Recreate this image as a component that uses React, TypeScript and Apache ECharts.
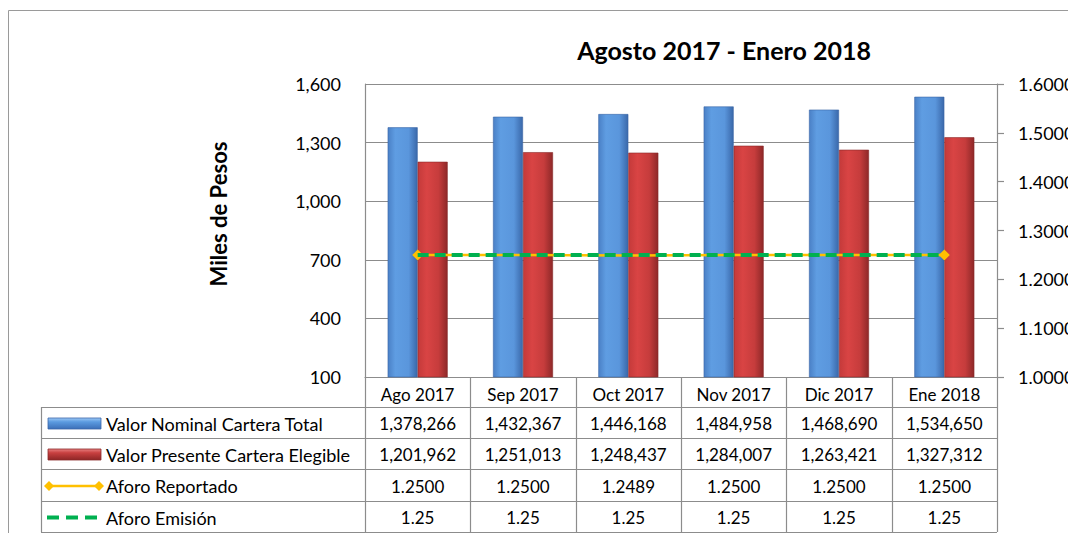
import React, { useEffect, useRef } from "react";
import * as echarts from "echarts";

const categories = ["Ago 2017", "Sep 2017", "Oct 2017", "Nov 2017", "Dic 2017", "Ene 2018"];
const valorNominal = [1378266, 1432367, 1446168, 1484958, 1468690, 1534650];
const valorPresente = [1201962, 1251013, 1248437, 1284007, 1263421, 1327312];
const aforoReportado = [1.25, 1.25, 1.2489, 1.25, 1.25, 1.25];
const aforoEmision = [1.25, 1.25, 1.25, 1.25, 1.25, 1.25];
const leftTicks = { min: 100, max: 1600, interval: 300 };
const rightTicks = { min: 1.0, max: 1.6, interval: 0.1 };
const rowNames = ["Valor Nominal Cartera Total", "Valor Presente Cartera Elegible", "Aforo Reportado", "Aforo Emisión"];

const FONT = "Lato";

function fmtInt(v: number) {
  return v.toLocaleString("en-US");
}

export default function App() {
  const ref = useRef<HTMLDivElement>(null);
  useEffect(() => {
    document.body.style.margin = "0";
    const chart = echarts.init(ref.current!, null, { renderer: "svg" });

    const gl = 365, gr = 997, gt = 84, gb = 377;
    const cw = (gr - gl) / categories.length;
    const rows = [377, 407, 438, 469, 501, 532];
    const lineColor = "#8c8c8c";

    const g: any[] = [];
    // outer border
    g.push({ type: "rect", shape: { x: 8.5, y: 10.5, width: 1200, height: 700 }, style: { fill: "none", stroke: "#9a9a9a", lineWidth: 1 }, silent: true });
    // title
    g.push({ type: "text", x: 724, y: 50, style: { text: "Agosto 2017 - Enero 2018", font: `bold 25px ${FONT}`, fill: "#000", align: "center", verticalAlign: "middle" } });
    // y axis name
    g.push({ type: "text", x: 218, y: 214, rotation: Math.PI / 2, style: { text: "Miles de Pesos", font: `bold 22px ${FONT}`, fill: "#000", align: "center", verticalAlign: "middle" } });

    // table lines
    for (let i = 1; i < rows.length; i++) {
      g.push({ type: "line", shape: { x1: 41, y1: rows[i] + 0.5, x2: gr, y2: rows[i] + 0.5 }, style: { stroke: lineColor, lineWidth: 1.2 } });
    }
    g.push({ type: "line", shape: { x1: 41.5, y1: rows[1], x2: 41.5, y2: rows[5] }, style: { stroke: lineColor, lineWidth: 1.2 } });
    for (let k = 0; k <= categories.length; k++) {
      const x = Math.round(gl + k * cw) + 0.5;
      g.push({ type: "line", shape: { x1: x, y1: rows[0], x2: x, y2: rows[5] }, style: { stroke: lineColor, lineWidth: 1.2 } });
    }
    // table values
    const rowVals: string[][] = [
      valorNominal.map(fmtInt),
      valorPresente.map(fmtInt),
      aforoReportado.map((v) => v.toFixed(4)),
      aforoEmision.map((v) => v.toFixed(2)),
    ];
    rowVals.forEach((vals, r) => {
      const cy = (rows[r + 1] + rows[r + 2]) / 2 + 1;
      vals.forEach((t, c) => {
        g.push({ type: "text", x: gl + (c + 0.5) * cw, y: cy, style: { text: t, font: `17px ${FONT}`, fill: "#000", align: "center", verticalAlign: "middle" } });
      });
      g.push({ type: "text", x: 106, y: cy, style: { text: rowNames[r], font: `18px ${FONT}`, fill: "#000", align: "left", verticalAlign: "middle" } });
    });
    // legend icons
    const cy1 = (rows[1] + rows[2]) / 2 + 1;
    const cy2 = (rows[2] + rows[3]) / 2 + 1;
    const cy3 = (rows[3] + rows[4]) / 2 + 1;
    const cy4 = (rows[4] + rows[5]) / 2 + 1;
    g.push({ type: "rect", shape: { x: 48, y: cy1 - 5.5, width: 53, height: 11 }, style: { fill: new echarts.graphic.LinearGradient(0, 0, 0, 1, [{ offset: 0, color: "#9cc8f5" }, { offset: 0.35, color: "#5b9be0" }, { offset: 1, color: "#3b6fb8" }]), stroke: "#3a66a8", lineWidth: 0.8 } });
    g.push({ type: "rect", shape: { x: 48, y: cy2 - 5.5, width: 53, height: 11 }, style: { fill: new echarts.graphic.LinearGradient(0, 0, 0, 1, [{ offset: 0, color: "#e88080" }, { offset: 0.35, color: "#c84040" }, { offset: 1, color: "#8e2626" }]), stroke: "#8a2a2a", lineWidth: 0.8 } });
    g.push({ type: "line", shape: { x1: 49, y1: cy3, x2: 99, y2: cy3 }, style: { stroke: "#FFC000", lineWidth: 2.5 } });
    [49, 99].forEach((x) => {
      g.push({ type: "polygon", shape: { points: [[x - 5, cy3], [x, cy3 - 5], [x + 5, cy3], [x, cy3 + 5]] }, style: { fill: "#FFC000" } });
    });
    g.push({ type: "line", shape: { x1: 47, y1: cy4, x2: 97, y2: cy4 }, style: { stroke: "#00B050", lineWidth: 4, lineDash: [12, 7] } });

    const barGradBlue = new echarts.graphic.LinearGradient(0, 0, 1, 0, [
      { offset: 0, color: "#4a80c6" },
      { offset: 0.25, color: "#5f9de2" },
      { offset: 0.7, color: "#5a96dc" },
      { offset: 1, color: "#3a68aa" },
    ]);
    const barGradRed = new echarts.graphic.LinearGradient(0, 0, 1, 0, [
      { offset: 0, color: "#c43a3a" },
      { offset: 0.3, color: "#d94444" },
      { offset: 0.7, color: "#c63c3c" },
      { offset: 1, color: "#8e2828" },
    ]);

    chart.setOption({
      animation: false,
      textStyle: { fontFamily: FONT },
      grid: { left: gl, right: 1068 - gr, top: gt, bottom: 533 - gb, containLabel: false, outerBoundsMode: "none" },
      xAxis: {
        type: "category",
        data: categories,
        axisLine: { show: true, lineStyle: { color: lineColor, width: 1.2 } },
        axisTick: { show: false },
        axisLabel: { color: "#000", fontSize: 17, margin: 9, fontFamily: FONT },
        splitLine: { show: false },
      },
      yAxis: [
        {
          type: "value",
          min: leftTicks.min,
          max: leftTicks.max,
          interval: leftTicks.interval,
          axisLine: { show: true, lineStyle: { color: lineColor, width: 1.2 } },
          axisTick: { show: false },
          axisLabel: { color: "#000", fontSize: 18, margin: 24, fontFamily: FONT, formatter: (v: number) => v.toLocaleString("en-US") },
          splitLine: { show: true, lineStyle: { color: lineColor, width: 1.2 } },
        },
        {
          type: "value",
          position: "right",
          min: rightTicks.min,
          max: rightTicks.max,
          interval: rightTicks.interval,
          axisLine: { show: true, lineStyle: { color: lineColor, width: 1.2 } },
          axisTick: { show: true, inside: false, length: 7, lineStyle: { color: lineColor, width: 1.2 } },
          axisLabel: { color: "#000", fontSize: 18, margin: 21, fontFamily: FONT, formatter: (v: number) => v.toFixed(4) },
          splitLine: { show: false },
        },
      ],
      series: [
        {
          name: rowNames[0],
          type: "bar",
          yAxisIndex: 0,
          data: valorNominal.map((v) => v / 1000),
          barWidth: 30,
          barGap: "0%",
          itemStyle: { color: barGradBlue, borderColor: "#3b67a6", borderWidth: 0.6 },
        },
        {
          name: rowNames[1],
          type: "bar",
          yAxisIndex: 0,
          data: valorPresente.map((v) => v / 1000),
          barWidth: 30,
          barGap: "0%",
          itemStyle: { color: barGradRed, borderColor: "#8a2a2a", borderWidth: 0.6 },
        },
        {
          name: rowNames[2],
          type: "line",
          yAxisIndex: 1,
          data: aforoReportado.map((v, i) => ({
            value: v,
            symbol: i === 0 || i === aforoReportado.length - 1 ? "diamond" : "none",
          })),
          symbolSize: 11,
          itemStyle: { color: "#FFC000" },
          lineStyle: { color: "#FFC000", width: 2.5 },
          z: 3,
        },
        {
          name: rowNames[3],
          type: "line",
          yAxisIndex: 1,
          data: aforoEmision,
          symbol: "none",
          lineStyle: { color: "#00B050", width: 4, type: [11, 6] },
          z: 4,
        },
      ],
      graphic: g,
    });
    return () => chart.dispose();
  }, []);
  return <div ref={ref} style={{ width: 1068, height: 533, overflow: "hidden" }} />;
}
